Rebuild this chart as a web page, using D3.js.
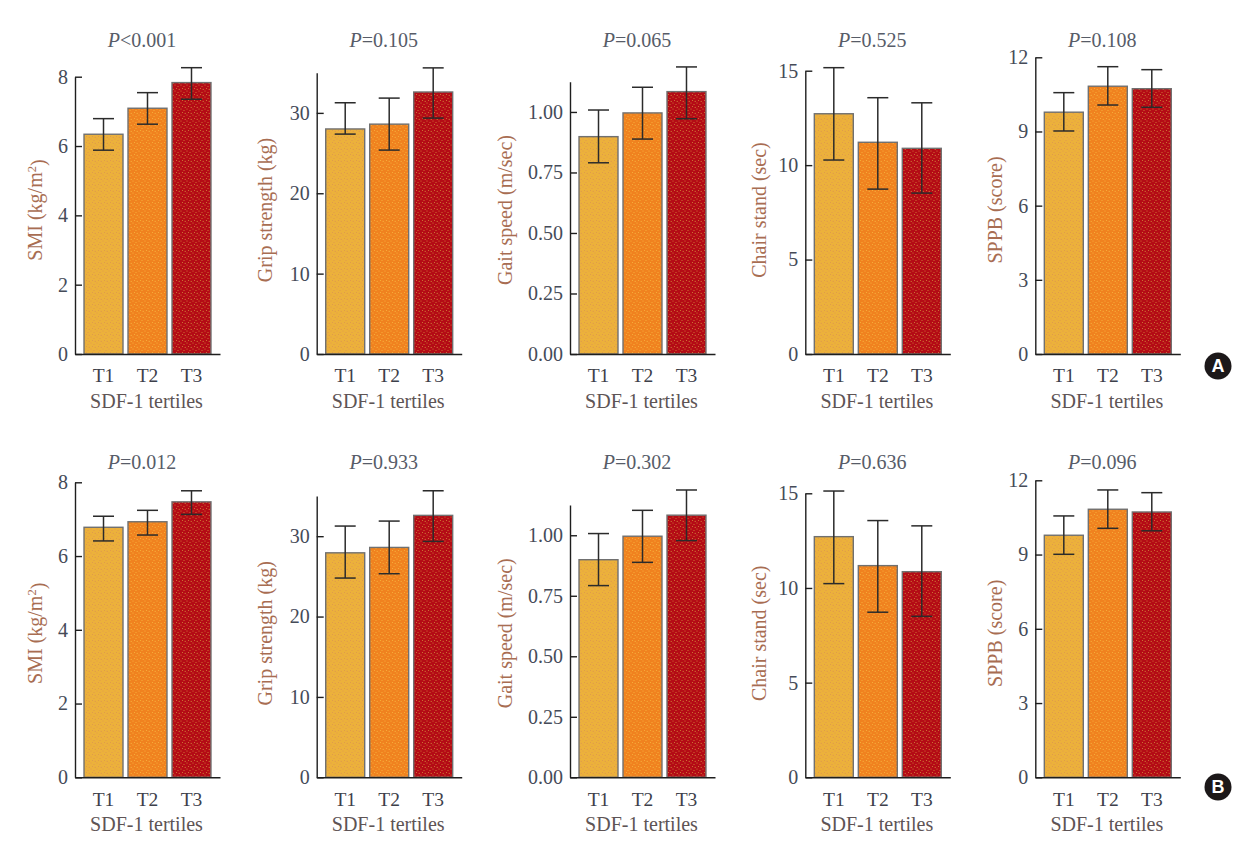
<!DOCTYPE html>
<html>
<head>
<meta charset="utf-8">
<script src="https://cdn.jsdelivr.net/npm/d3@7"></script>
<style>
  body { margin: 0; background: #fff; }
</style>
</head>
<body>
<div id="chart"></div>
<script>
// ---- data ----
const tertiles = ["T1", "T2", "T3"];
const yLabels = ["SMI (kg/m²)", "Grip strength (kg)", "Gait speed (m/sec)", "Chair stand (sec)", "SPPB (score)"];
const yMax = [8, 35, 1.125, 15, 12];
const yTicks = [[0, 2, 4, 6, 8], [0, 10, 20, 30], [0, 0.25, 0.5, 0.75, 1], [0, 5, 10, 15], [0, 3, 6, 9, 12]];
const xLabel = "SDF-1 tertiles";

// panel A
const pA = ["<0.001", "=0.105", "=0.065", "=0.525", "=0.108"];
const meanA = [[6.34, 7.09, 7.83], [28.0, 28.6, 32.6], [0.898, 0.996, 1.084], [12.72, 11.21, 10.89], [9.78, 10.83, 10.73]];
const lowA  = [[5.88, 6.63, 7.35], [27.36, 25.37, 29.35], [0.79, 0.888, 0.972], [10.27, 8.73, 8.52], [9.02, 10.07, 9.98]];
const highA = [[6.79, 7.54, 8.26], [31.26, 31.84, 35.6], [1.008, 1.102, 1.186], [15.16, 13.57, 13.3], [10.57, 11.62, 11.5]];

// panel B
const pB = ["=0.012", "=0.933", "=0.302", "=0.636", "=0.096"];
const meanB = [[6.78, 6.93, 7.47], [27.93, 28.6, 32.59], [0.899, 0.996, 1.083], [12.71, 11.18, 10.86], [9.78, 10.83, 10.72]];
const lowB  = [[6.41, 6.57, 7.13], [24.79, 25.33, 29.35], [0.792, 0.888, 0.978], [10.23, 8.72, 8.5], [9.01, 10.06, 9.96]];
const highB = [[7.08, 7.24, 7.77], [31.26, 31.88, 35.65], [1.007, 1.103, 1.187], [15.12, 13.56, 13.28], [10.56, 11.61, 11.5]];

// ---- layout ----
const W = 1259, H = 853;
const serif = "'Liberation Serif', 'DejaVu Serif', 'Times New Roman', serif";
const colors = ["#ecb13b", "#f0821f", "#b40b15"];
const dotColors = ["#d98f52", "#f8c044", "#d8a040"];
const axisX = [75, 316.7, 570, 805.3, 1035.3];
const plotW = 145;
const labelOff = [40, 51.7, 65, 46, 40];
const rows = [
  { y0: 354, tops: [76.7, 72.7, 81.7, 70.7, 57.3], pBase: 46.5, p: pA, mean: meanA, low: lowA, high: highA, badge: "A", badgeY: 366 },
  { y0: 777.3, tops: [482.3, 496, 505, 493.3, 480.3], pBase: 468.5, p: pB, mean: meanB, low: lowB, high: highB, badge: "B", badgeY: 787 }
];

const svg = d3.select("#chart").append("svg")
  .attr("width", W).attr("height", H);

// stipple fill patterns
const defs = svg.append("defs");
colors.forEach((c, i) => {
  const pat = defs.append("pattern")
    .attr("id", "dots" + i)
    .attr("patternUnits", "userSpaceOnUse")
    .attr("width", 6).attr("height", 6);
  pat.append("rect").attr("width", 6).attr("height", 6).attr("fill", c);
  [[1, 1], [4, 2.5], [2.5, 4.5], [5.2, 5.4]].forEach(p => {
    pat.append("circle").attr("cx", p[0]).attr("cy", p[1]).attr("r", 0.55)
      .attr("fill", dotColors[i]).attr("opacity", 0.8);
  });
});

rows.forEach(row => {
  yLabels.forEach((lab, k) => {
    const x = d3.scaleBand()
      .domain(tertiles)
      .range([axisX[k], axisX[k] + plotW])
      .paddingInner(0.114)
      .paddingOuter(0.205);
    const y = d3.scaleLinear()
      .domain([0, yMax[k]])
      .range([row.y0, row.tops[k]]);

    const g = svg.append("g");
    const vals = tertiles.map((t, i) => ({ t: t, i: i, m: row.mean[k][i], lo: row.low[k][i], hi: row.high[k][i] }));

    // bars
    g.selectAll("rect.bar").data(vals).enter()
      .append("rect")
      .attr("class", "bar")
      .attr("x", d => x(d.t))
      .attr("y", d => y(d.m))
      .attr("width", x.bandwidth())
      .attr("height", d => y(0) - y(d.m))
      .attr("fill", d => "url(#dots" + d.i + ")")
      .attr("stroke", "#707070")
      .attr("stroke-width", 1.4);

    // error bars
    const cx = d => x(d.t) + x.bandwidth() / 2;
    const eb = g.selectAll("g.err").data(vals).enter().append("g")
      .attr("stroke", "#2b2b2b").attr("stroke-width", 1.5);
    eb.append("line")
      .attr("x1", cx).attr("x2", cx)
      .attr("y1", d => y(d.lo)).attr("y2", d => y(d.hi));
    eb.append("line")
      .attr("x1", d => cx(d) - 10.5).attr("x2", d => cx(d) + 10.5)
      .attr("y1", d => y(d.hi)).attr("y2", d => y(d.hi));
    eb.append("line")
      .attr("x1", d => cx(d) - 10.5).attr("x2", d => cx(d) + 10.5)
      .attr("y1", d => y(d.lo)).attr("y2", d => y(d.lo));

    // axes
    const fmt = k == 2 ? d3.format(".2f") : d3.format("d");
    const yAxis = d3.axisLeft(y).tickValues(yTicks[k]).tickFormat(fmt)
      .tickSizeInner(-7).tickSizeOuter(0).tickPadding(7);
    const ya = g.append("g").attr("transform", `translate(${axisX[k]},0)`).call(yAxis);
    ya.selectAll("text").style("font-family", serif).style("font-size", "20px").attr("fill", "#454b58");

    const xAxis = d3.axisBottom(x).tickSize(0).tickSizeOuter(0).tickPadding(14.5);
    const xa = g.append("g").attr("transform", `translate(0,${row.y0})`).call(xAxis);
    xa.selectAll("text").style("font-family", serif).style("font-size", "19.5px").attr("fill", "#3d404a");
    [ya, xa].forEach(a => {
      a.select(".domain").attr("stroke", "#1e1e1e").attr("stroke-width", 1.4);
      a.selectAll(".tick line").attr("stroke", "#1e1e1e").attr("stroke-width", 1.4);
    });

    // x title
    g.append("text")
      .attr("x", axisX[k] + plotW / 2 - 1)
      .attr("y", row.y0 + 54)
      .attr("text-anchor", "middle")
      .style("font-family", serif)
      .style("font-size", "20px")
      .attr("fill", "#5e5455")
      .text(xLabel);

    // y title
    const yt = g.append("text")
      .attr("transform", `translate(${axisX[k] - labelOff[k]},${row.y0 - 144}) rotate(-90)`)
      .attr("text-anchor", "middle")
      .attr("dy", "0.35em")
      .style("font-family", serif)
      .style("font-size", "20px")
      .attr("fill", "#a86d52");
    const parts = lab.split("²");
    yt.append("tspan").text(parts[0]);
    if (parts.length > 1) {
      yt.append("tspan").attr("dy", "-0.45em").style("font-size", "12.5px").text("2");
      yt.append("tspan").attr("dy", "0.45em").text(parts[1]);
    }

    // P value
    const pt = g.append("text")
      .attr("x", axisX[k] + plotW / 2 - 5.5)
      .attr("y", row.pBase)
      .attr("text-anchor", "middle")
      .style("font-family", serif)
      .style("font-size", "20px")
      .attr("fill", "#575c68");
    pt.append("tspan").style("font-style", "italic").text("P");
    pt.append("tspan").text(row.p[k]);
  });

  // panel badge
  svg.append("circle").attr("cx", 1218).attr("cy", row.badgeY).attr("r", 13.5).attr("fill", "#1c1819");
  svg.append("text").attr("x", 1218).attr("y", row.badgeY)
    .attr("dy", "0.36em")
    .attr("text-anchor", "middle")
    .style("font-family", "'Liberation Sans', Arial, sans-serif")
    .style("font-weight", "bold")
    .style("font-size", "18px")
    .attr("fill", "#fff")
    .text(row.badge);
});
</script>
</body>
</html>
